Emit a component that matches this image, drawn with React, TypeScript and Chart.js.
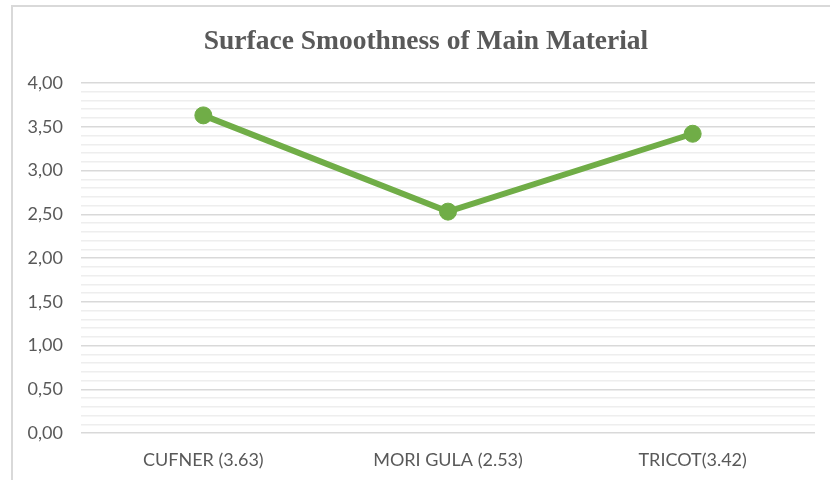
import React, { useEffect, useRef } from "react";
import { Chart, registerables } from "chart.js";

Chart.register(...registerables);

const categories = ["CUFNER (3.63)", "MORI GULA (2.53)", "TRICOT(3.42)"];
const values = [3.63, 2.53, 3.42];
const titleText = "Surface Smoothness of Main Material";
const yMin = 0;
const yMax = 4;
const yStep = 0.1;

const titleFont = { family: "'Liberation Serif', 'DejaVu Serif', serif", size: 27.5, weight: "bold" as const };
const titlePadTop = 25;

const centeredTitle = {
  id: "centeredTitle",
  afterDraw(chart: any) {
    const ctx = chart.ctx;
    ctx.save();
    ctx.fillStyle = "#595959";
    ctx.font = `bold ${titleFont.size}px ${titleFont.family}`;
    ctx.textAlign = "center";
    ctx.textBaseline = "middle";
    ctx.fillText(titleText, 426, titlePadTop + (titleFont.size * 1.2) / 2);
    ctx.restore();
  },
};

export default function App() {
  const ref = useRef<HTMLCanvasElement | null>(null);
  useEffect(() => {
    document.body.style.margin = "0";
    const ctx = ref.current!;
    const tickFont = { family: "Lato, 'Open Sans', sans-serif", size: 18 };
    const chart = new Chart(ctx, {
      type: "line",
      data: {
        labels: categories,
        datasets: [
          {
            data: values,
            borderColor: "#70AD47",
            backgroundColor: "#70AD47",
            borderWidth: 6,
            pointRadius: 8.5,
            pointHoverRadius: 8.5,
            pointBackgroundColor: "#70AD47",
            pointBorderColor: "#70AD47",
            pointBorderWidth: 1,
            tension: 0,
            fill: false,
          },
        ],
      },
      plugins: [centeredTitle],
      options: {
        responsive: false,
        animation: false,
        layout: { padding: { left: 0, right: 15, top: 0, bottom: 0 } },
        plugins: {
          legend: { display: false },
          tooltip: { enabled: false },
          title: {
            display: true,
            text: titleText,
            color: "rgba(0,0,0,0)",
            font: titleFont,
            padding: { top: titlePadTop, bottom: 25 },
          },
        },
        scales: {
          x: {
            grid: { display: false, drawTicks: false },
            border: { display: false },
            offset: true,
            afterFit: (s: any) => {
              s.height = 47;
            },
            ticks: {
              color: "#595959",
              font: tickFont,
              padding: 16,
              maxRotation: 0,
            },
          },
          y: {
            min: yMin,
            max: yMax,
            border: { display: false },
            afterFit: (s: any) => {
              s.width = 81;
            },
            grid: {
              drawTicks: false,
              lineWidth: 1.5,
              color: (c: any) => {
                const v = Math.round((c.tick?.value ?? 0) * 10);
                return v % 5 === 0 ? "#d9d9d9" : "#eeeeee";
              },
            },
            ticks: {
              stepSize: yStep,
              autoSkip: false,
              color: "#595959",
              font: tickFont,
              padding: 18,
              callback: (v: any) => {
                const n = Math.round(Number(v) * 10);
                return n % 5 === 0 ? (n / 10).toFixed(2).replace(".", ",") : "";
              },
            },
          },
        },
      },
    });
    return () => chart.destroy();
  }, []);
  return (
    <div style={{ position: "relative", width: 830, height: 480, overflow: "hidden", background: "#fff" }}>
      <div
        style={{
          position: "absolute",
          left: 11,
          top: 5,
          width: 840,
          height: 500,
          border: "2px solid #d9d9d9",
          boxSizing: "border-box",
        }}
      />
      <canvas ref={ref} width={830} height={480} style={{ position: "absolute", left: 0, top: 0 }} />
    </div>
  );
}
